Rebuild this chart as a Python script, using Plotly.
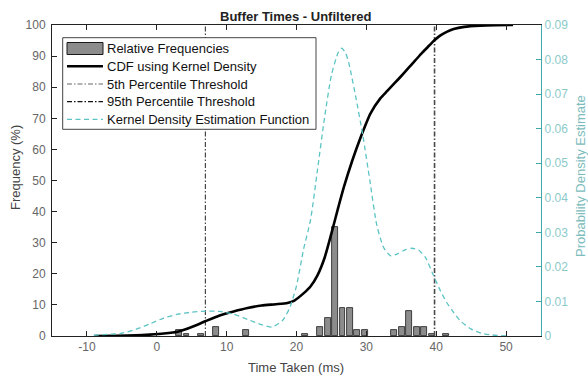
import plotly.graph_objects as go

# ---------------- data ----------------
bin_centers = [3.19, 4.25, 6.38, 8.51, 12.76, 21.26, 23.39, 24.45, 25.52, 26.58,
               27.64, 28.71, 29.77, 34.02, 35.08, 36.14, 37.21, 38.27, 39.33, 41.46]
rel_freq = [1.8, 0.8, 0.8, 2.8, 1.8, 0.8, 2.8, 5.9, 35.0, 8.9,
            8.9, 1.8, 1.8, 1.8, 2.8, 7.9, 2.8, 2.8, 0.8, 0.8]

cdf_x = [-9, -6, -3, -1, 1, 3, 5, 7, 9, 11, 13, 15, 17, 18.7, 19.7, 21, 22, 23, 24, 25,
         26, 26.8, 28, 29.2, 30.6, 32, 33, 34, 35, 36, 37, 38, 39, 39.7, 40.5, 41.5, 42.5,
         44, 46.3, 48.5, 51]
cdf_y = [0, 0.05, 0.2, 0.45, 0.8, 1.4, 2.9, 4.8, 6.6, 7.9, 9.0, 9.8, 10.2, 10.6, 11.4, 13.7,
         15.9, 19.5, 25.0, 33.0, 41.5, 48.0, 56.5, 64.0, 71.6, 76.4, 78.8, 81.2, 83.6, 86.1,
         88.6, 91.1, 93.4, 95.0, 96.5, 97.8, 98.7, 99.4, 99.8, 99.95, 100]

kde_x = [-9, -7, -5, -3, -1, 1, 3, 5, 7, 9, 11, 13, 15, 16.5, 18, 19, 20, 21, 22, 23, 24,
         25, 26, 26.45, 27, 27.5, 28.5, 29.5, 30.5, 31.5, 32.5, 33.5, 34.5, 35.5, 36.5, 37.5,
         38.5, 39.5, 40.5, 41.5, 42.5, 43.5, 45, 46.5, 48, 50]
kde_y = [0.0002, 0.0005, 0.0008, 0.0019, 0.0035, 0.0052, 0.0063, 0.0069, 0.0072, 0.0071,
         0.0063, 0.0048, 0.0033, 0.0026, 0.0045, 0.0080, 0.0145, 0.0250, 0.0335, 0.0480,
         0.0630, 0.0755, 0.0822, 0.0833, 0.0820, 0.0789, 0.0690, 0.0580, 0.0450, 0.0320,
         0.0255, 0.0232, 0.0238, 0.0249, 0.0254, 0.0248, 0.0226, 0.0180, 0.0135, 0.0097,
         0.0068, 0.0043, 0.0020, 0.0008, 0.0003, 0.0]

p5 = 6.95
p95 = 39.76

x_ticks = [-10, 0, 10, 20, 30, 40, 50]
x_tick_labels = ["-10", "0", "10", "20", "30", "40", "50"]
y_ticks = [0, 10, 20, 30, 40, 50, 60, 70, 80, 90, 100]
y2_ticks = [0, 0.01, 0.02, 0.03, 0.04, 0.05, 0.06, 0.07, 0.08, 0.09]
y2_tick_labels = ["0", "0.01", "0.02", "0.03", "0.04", "0.05", "0.06", "0.07", "0.08", "0.09"]

legend_labels = ["Relative Frequencies", "CDF using Kernel Density",
                 "5th Percentile Threshold", "95th Percentile Threshold",
                 "Kernel Density Estimation Function"]

# ---------------- layout geometry ----------------
W, H = 588, 379
L, R, T, B = 52, 47, 25, 43
pw = W - L - R
ph = H - T - B
FONT = "Liberation Sans, Arial, Helvetica, sans-serif"
TEAL = "#5cc4c4"
TEAL_AX = "#3fa9a9"


def px(x):
    return (x - L) / pw


def py(y):
    return (H - B - y) / ph


fig = go.Figure()
fig.add_bar(x=bin_centers, y=rel_freq, width=0.85,
            marker=dict(color="#8c8c8c", line=dict(color="#1a1a1a", width=0.8)),
            showlegend=False)
fig.add_scatter(x=[p5, p5], y=[0, 100], mode="lines",
                line=dict(color="#222222", width=1, dash="5px,2px,1.5px,2px"),
                showlegend=False)
fig.add_scatter(x=[p95, p95], y=[0, 100], mode="lines",
                line=dict(color="#4a4a4a", width=1.6, dash="5px,2px,1.5px,2px"),
                showlegend=False)
fig.add_scatter(x=kde_x, y=kde_y, yaxis="y2", mode="lines",
                line=dict(color=TEAL, width=1.3, dash="5px,3.5px", shape="spline", smoothing=0.6),
                showlegend=False)
fig.add_scatter(x=cdf_x, y=cdf_y, mode="lines",
                line=dict(color="black", width=2.6, shape="spline", smoothing=0.6),
                showlegend=False)

# ---------------- manual legend ----------------
shapes = []
annotations = []
lx0, lx1, ly0, ly1 = 62.7, 316, 37.7, 129.3
shapes.append(dict(type="rect", xref="paper", yref="paper",
                   x0=px(lx0), x1=px(lx1), y0=py(ly1), y1=py(ly0),
                   line=dict(color="#444444", width=1), fillcolor="white", layer="above"))
rows = [48.5, 66.2, 84.0, 101.7, 119.4]
sx0, sx1 = 67, 103
shapes.append(dict(type="rect", xref="paper", yref="paper",
                   x0=px(sx0), x1=px(sx1), y0=py(rows[0] + 6), y1=py(rows[0] - 6),
                   line=dict(color="#1a1a1a", width=1), fillcolor="#8c8c8c", layer="above"))
line_styles = [
    dict(color="black", width=2.6),
    dict(color="#666666", width=1, dash="5px,2px,1.5px,2px"),
    dict(color="#111111", width=1.2, dash="5px,2px,1.5px,2px"),
    dict(color=TEAL, width=1.2, dash="5px,3.5px"),
]
for i, st in enumerate(line_styles):
    yy = py(rows[i + 1])
    shapes.append(dict(type="line", xref="paper", yref="paper",
                       x0=px(sx0), x1=px(sx1), y0=yy, y1=yy, line=st, layer="above"))
for i, lab in enumerate(legend_labels):
    annotations.append(dict(text=lab, xref="paper", yref="paper", x=px(105), y=py(rows[i]),
                            xanchor="left", yanchor="middle", showarrow=False,
                            font=dict(family=FONT, size=13, color="#111111")))

annotations.append(dict(text="<b>Buffer Times - Unfiltered</b>", xref="paper", yref="paper",
                        x=px(296), y=py(16), xanchor="center", yanchor="middle",
                        showarrow=False, font=dict(family=FONT, size=13, color="#222222")))
annotations.append(dict(text="Time Taken (ms)", xref="paper", yref="paper",
                        x=px(296), y=py(367), xanchor="center", yanchor="middle",
                        showarrow=False, font=dict(family=FONT, size=13, color="#444444")))
annotations.append(dict(text="Frequency (%)", xref="paper", yref="paper",
                        x=px(15), y=py(168), xanchor="center", yanchor="middle", textangle=-90,
                        showarrow=False, font=dict(family=FONT, size=13, color="#444444")))
annotations.append(dict(text="Probability Density Estimate", xref="paper", yref="paper",
                        x=px(580), y=py(176), xanchor="center", yanchor="middle", textangle=-90,
                        showarrow=False, font=dict(family=FONT, size=13, color="#7cbcbc")))

fig.update_layout(
    width=W, height=H,
    margin=dict(l=L, r=R, t=T, b=B, pad=0),
    paper_bgcolor="white", plot_bgcolor="white",
    showlegend=False,
    bargap=0,
    shapes=shapes,
    annotations=annotations,
    xaxis=dict(range=[-15, 55], tickvals=x_ticks, ticktext=x_tick_labels,
               ticks="inside", ticklen=5, tickcolor="#222", tickwidth=1,
               showline=True, linecolor="#222", linewidth=1, mirror="ticks",
               showgrid=False, zeroline=False,
               tickfont=dict(family=FONT, size=12, color="#666666")),
    yaxis=dict(range=[0, 100], tickvals=y_ticks,
               ticks="inside", ticklen=5, tickcolor="#222", tickwidth=1,
               showline=True, linecolor="#222", linewidth=1,
               showgrid=False, zeroline=False, ticklabelstandoff=3,
               tickfont=dict(family=FONT, size=12, color="#666666")),
    yaxis2=dict(range=[0, 0.09], tickvals=y2_ticks, ticktext=y2_tick_labels,
                overlaying="y", side="right",
                ticks="inside", ticklen=5, tickcolor=TEAL_AX, tickwidth=1,
                showline=True, linecolor=TEAL_AX, linewidth=1.2,
                showgrid=False, zeroline=False,
                tickfont=dict(family=FONT, size=12, color="#8ccaca")),
)

fig.write_html("out.html",
               config={"displayModeBar": False},
               post_script="document.body.style.margin='0';document.body.style.padding='0';")
